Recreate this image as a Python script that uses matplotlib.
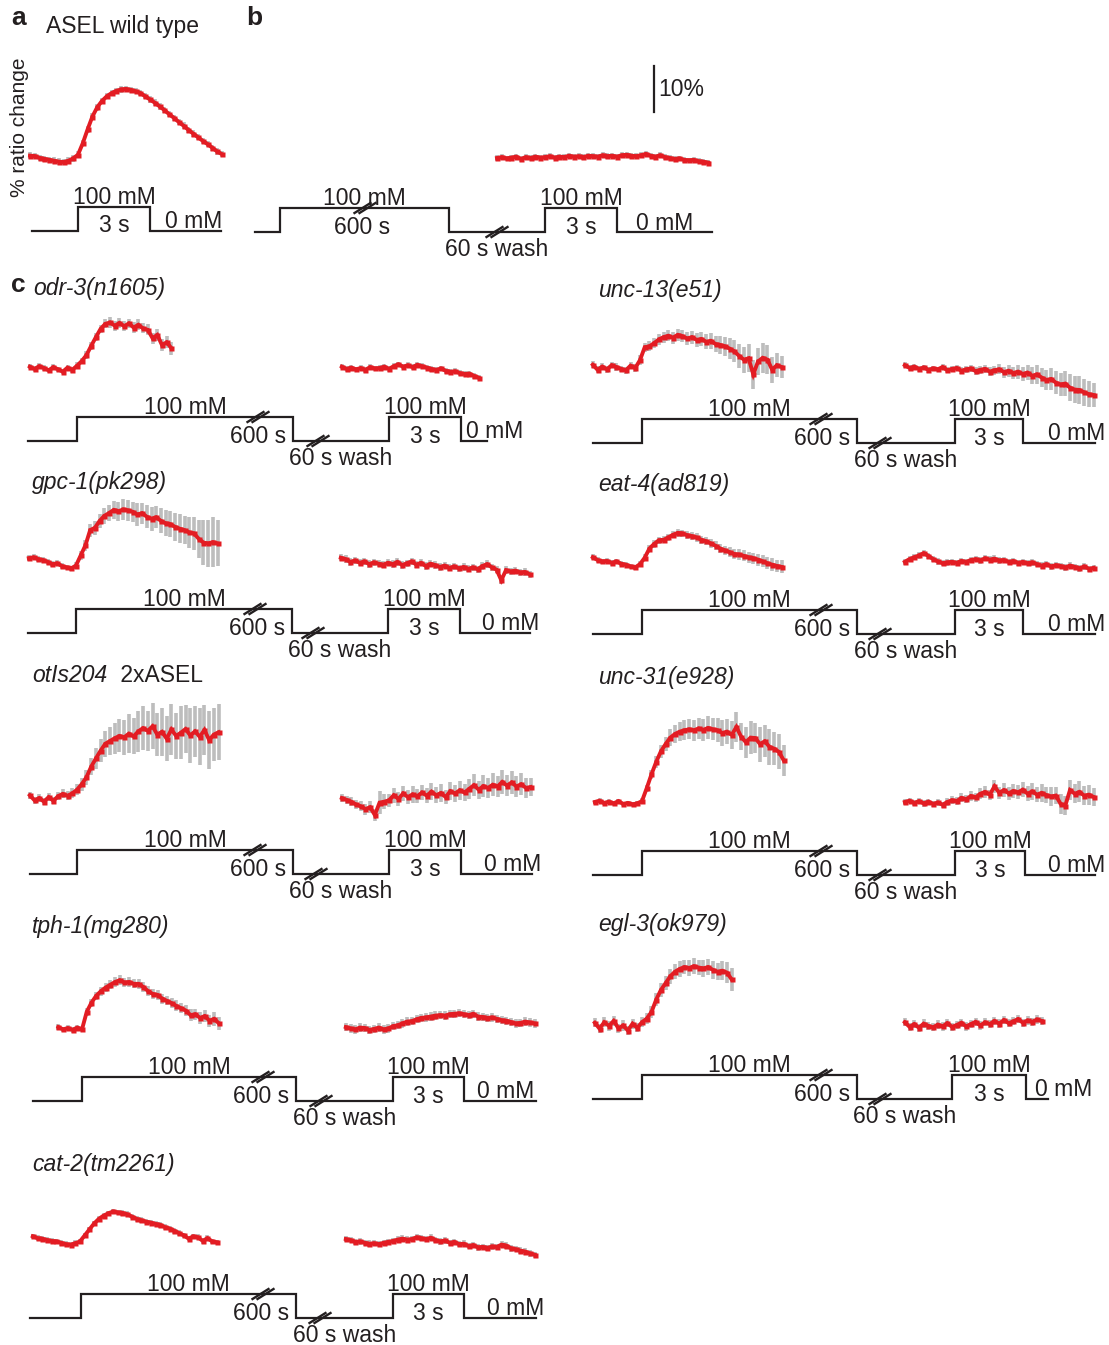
import numpy as np
import matplotlib.pyplot as plt

plt.rcParams['font.family'] = ['Liberation Sans', 'DejaVu Sans']

W, H = 1109, 1345
RED = '#e31c23'
GREY = '#bdbdbd'
INK = '#231f20'
PX_PER_PCT = 4.6          # vertical pixels per 1 % ratio change
DT = 0.2                  # sampling interval (s)
FS = 16.5

# --- traces: % ratio change, one value every DT seconds, t0 = first sample (s from onset)
wt_a = [0.3, 0.2, -0.2, -0.4, -0.6, -0.8, -1.0, -1.1, -0.8, -0.3,
        0.5, 3.0, 6.0, 8.8, 10.8, 12.2, 13.2, 13.9, 14.4, 14.7,
        14.8, 14.6, 14.3, 13.9, 13.2, 12.5, 11.8, 11.0, 10.2, 9.3,
        8.5, 7.6, 6.8, 5.9, 5.1, 4.3, 3.5, 2.8, 2.0, 1.2, 0.6]
wt_b = [0.0, 0.2, -0.1, 0.1, 0.3, -0.2, 0.2, 0.0, 0.3, 0.1,
        0.2, 0.4, 0.1, 0.3, 0.2, 0.5, 0.3, 0.4, 0.2, 0.5,
        0.4, 0.3, 0.6, 0.4, 0.5, 0.3, 0.6, 0.7, 0.5, 0.4,
        0.6, 0.9, 0.5, 0.3, 0.6, 0.2, 0.0, -0.2, -0.1, -0.4,
        -0.5, -0.4, -0.7, -0.8, -1.0]

odr3_pre = [0.3, -0.2, 0.4, 0.0, -0.5, 0.2, -0.3, -0.8, 0.1, -0.4,
            0.5, 1.5, 2.8, 4.8, 6.7, 8.5, 9.6, 9.9, 9.2, 9.8,
            9.1, 9.7, 8.8, 9.4, 8.6, 8.3, 6.5, 7.2, 5.0, 5.6, 4.3]
odr3_pre_err = [0.6, 0.6, 0.6, 0.6, 0.6, 0.6, 0.6, 0.6, 0.6, 0.6,
                0.7, 0.7, 0.8, 0.8, 0.9, 0.9, 1.0, 1.1, 1.1, 1.0,
                1.1, 1.0, 1.1, 1.2, 1.1, 1.2, 1.2, 1.3, 1.2, 1.3, 1.4]
odr3_post = [0.3, -0.2, 0.1, -0.3, 0.0, -0.4, 0.2, -0.1, 0.0, 0.3,
             -0.2, 0.4, 0.8, 0.3, 0.6, 0.2, 0.7, 0.4, 0.1, -0.2,
             -0.4, -0.1, -0.6, -0.8, -0.7, -1.1, -1.3, -1.2, -1.7, -2.1]

unc13_pre = [0.5, -0.6, 0.1, -0.5, 0.4, 0.0, -0.4, -0.7, 0.3, -0.2,
             1.5, 4.3, 4.5, 5.2, 6.0, 6.5, 6.8, 6.4, 7.0, 6.7,
             6.2, 6.5, 5.9, 6.1, 5.5, 5.7, 5.0,
             4.8, 4.5, 4.0, 3.4, 2.4, 1.6, 1.9, -1.6, 1.2, 2.0, 1.6, -0.6, 0.4, 0.0]
unc13_pre_err = [0.7, 0.8, 0.7, 0.8, 0.7, 0.8, 0.7, 0.8, 0.7, 0.8,
                 1.0, 1.0, 1.1, 1.1, 1.2, 1.2, 1.2, 1.3, 1.3, 1.3,
                 1.4, 1.4, 1.5, 1.6, 1.6, 1.7, 1.8,
                 2.0, 2.1, 2.3, 2.4, 2.6, 2.8, 3.0, 3.2, 3.0, 3.3, 3.1, 2.8, 2.6, 2.4]
unc13_post = [0.4, -0.2, 0.1, -0.4, -0.1, -0.6, -0.3, -0.5, 0.0, -0.7,
              -0.4, -0.2, -0.8, -0.5, -0.3, -0.9, -0.6, -0.4, -1.0, -0.7,
              -0.5, -1.1, -0.8, -1.3, -1.0, -1.5, -1.2, -1.9, -1.6, -2.3,
              -2.8, -2.6, -3.4, -3.8, -3.6, -4.5, -4.9, -5.0, -5.5, -5.9, -6.1]
unc13_post_err = [0.6, 0.6, 0.6, 0.6, 0.6, 0.6, 0.6, 0.6, 0.6, 0.6,
                  0.7, 0.7, 0.7, 0.8, 0.8, 0.8, 0.9, 0.9, 1.0, 1.0,
                  1.1, 1.2, 1.3, 1.4, 1.5, 1.6, 1.7, 1.8, 2.0, 2.1,
                  2.2, 2.3, 2.5, 2.6, 2.8, 2.9, 3.0, 3.1, 3.0, 2.8, 2.6]

gpc1_pre = [0.4, 0.6, 0.2, 0.0, -0.4, -0.9, -0.7, -1.3, -1.6, -1.8,
            -1.2, 1.0, 3.2, 6.5, 7.0, 8.5, 9.6, 10.2, 10.9, 10.6,
            11.0, 10.8, 10.5, 9.9, 10.2, 9.4, 9.0, 9.3, 8.5, 8.0,
            7.8, 7.2, 6.8, 6.5, 6.0, 5.8, 4.6, 3.8, 3.6, 3.9, 3.6]
gpc1_pre_err = [0.6, 0.6, 0.6, 0.6, 0.6, 0.6, 0.6, 0.6, 0.6, 0.6,
                0.8, 1.0, 1.2, 1.4, 1.5, 1.6, 1.7, 1.8, 2.0, 2.1,
                2.2, 2.3, 2.2, 2.4, 2.3, 2.5, 2.6, 2.4, 2.7, 2.8,
                2.9, 3.0, 3.2, 3.1, 3.4, 3.6, 4.2, 4.8, 5.2, 5.4, 5.0]
gpc1_post = [0.5, 0.2, -0.4, -0.1, -0.6, -0.3, -0.9, -0.5, -0.8, -1.0,
             -0.6, -0.9, -0.4, -1.1, -0.7, -0.3, -1.0, -0.6, -1.3, -0.8,
             -1.1, -1.5, -1.2, -1.7, -1.4, -1.8, -1.5, -1.9, -1.6, -2.0,
             -1.3, -0.9, -1.6, -2.1, -4.4, -2.2, -2.5, -2.3, -2.7, -2.6, -3.1]

eat4_pre = [0.6, 0.0, -0.3, -0.2, -0.6, -0.3, -0.8, -1.0, -1.4, -1.6,
            -0.9, 0.5, 2.5, 3.5, 4.3, 4.4, 4.9, 5.5, 5.9, 5.8,
            5.4, 5.2, 4.9, 4.4, 4.1, 3.6, 3.1, 2.5, 2.1, 1.7,
            1.3, 1.2, 0.9, 0.6, 0.4, 0.1, -0.3, -0.7, -1.0, -1.3, -1.5]
eat4_pre_err = [0.6, 0.6, 0.6, 0.6, 0.6, 0.6, 0.6, 0.6, 0.6, 0.6,
                0.7, 0.7, 0.7, 0.8, 0.8, 0.8, 0.8, 0.8, 0.8, 0.8,
                0.8, 0.9, 0.9, 0.9, 0.9, 1.0, 1.0, 1.0, 1.0, 1.1,
                1.1, 1.1, 1.2, 1.2, 1.2, 1.3, 1.3, 1.3, 1.4, 1.4, 1.4]
eat4_post = [-0.4, 0.2, 0.6, 1.0, 1.5, 0.9, 0.2, -0.3, -0.7, -0.5,
             -0.4, -0.6, -0.2, -0.4, 0.0, 0.2, -0.1, 0.4, 0.1, 0.3,
             -0.1, 0.0, -0.4, -0.2, -0.6, -0.4, -0.7, -0.5, -0.9, -1.2,
             -0.9, -1.4, -1.1, -1.3, -1.6, -1.2, -1.5, -1.8, -1.4, -1.9, -1.7]

otis_pre = [0.6, -0.5, 0.0, -0.8, 0.2, -0.6, 0.4, 0.9, 0.5, 1.0,
            1.8, 3.0, 4.5, 6.8, 8.6, 10.3, 11.8, 12.4, 13.0, 13.5,
            13.2, 14.0, 13.4, 14.5, 15.2, 14.6, 15.6, 13.8, 14.4, 12.9,
            14.9, 13.5, 14.2, 15.0, 13.6, 14.5, 13.3, 14.8, 12.6, 13.8, 14.3]
otis_pre_err = [0.8, 0.8, 0.9, 0.8, 0.9, 0.8, 0.9, 1.0, 1.0, 1.1,
                1.2, 1.4, 1.6, 1.9, 2.2, 2.5, 2.8, 3.0, 3.4, 3.6,
                3.8, 4.2, 3.9, 4.5, 4.8, 4.4, 5.0, 4.6, 5.2, 4.9,
                5.5, 5.0, 5.8, 5.3, 6.0, 5.6, 6.2, 5.4, 6.4, 5.8, 6.1]
otis_post = [0.0, -0.4, -0.8, -1.4, -1.8, -2.4, -2.0, -3.7, -1.0, -0.8,
             -0.5, 0.6, -0.2, 1.0, 0.2, 0.8, 0.4, 1.2, 0.5, 1.4,
             0.6, 1.1, 0.2, 1.5, 1.0, 1.7, 1.2, 2.0, 2.8, 1.8,
             2.6, 2.2, 2.9, 2.5, 3.5, 2.7, 3.4, 2.5, 3.0, 2.2, 2.4]
otis_post_err = [0.8, 0.9, 1.0, 1.0, 1.1, 1.2, 1.3, 1.4, 2.5, 1.6,
                 1.4, 1.6, 1.5, 1.7, 1.6, 1.8, 1.5, 1.7, 1.6, 1.8,
                 1.7, 1.9, 1.6, 2.0, 1.8, 2.1, 1.9, 2.2, 2.4, 2.0,
                 2.3, 2.1, 2.5, 2.2, 2.6, 2.3, 2.5, 2.2, 2.4, 2.1, 2.0]

unc31_pre = [0.0, 0.3, -0.2, 0.1, -0.3, 0.2, -0.4, -0.2, -0.5, -0.3,
             0.2, 3.0, 6.0, 8.7, 11.0, 12.6, 14.0, 14.8, 15.3, 15.6,
             15.8, 15.6, 16.0, 15.7, 16.1, 15.8, 15.6, 15.0, 15.3, 14.6,
             16.3, 14.2, 13.0, 14.0, 13.9, 12.6, 13.2, 12.0, 11.6, 10.9, 9.1]
unc31_pre_err = [0.5, 0.5, 0.5, 0.5, 0.5, 0.5, 0.5, 0.5, 0.5, 0.5,
                 0.6, 0.8, 1.0, 1.2, 1.4, 1.6, 1.8, 2.0, 2.1, 2.2,
                 2.2, 2.3, 2.3, 2.4, 2.5, 2.4, 2.6, 2.8, 2.7, 3.0,
                 3.2, 3.0, 3.4, 3.6, 3.3, 3.8, 3.5, 3.9, 3.6, 3.8, 3.4]
unc31_post = [0.0, 0.3, -0.2, 0.2, -0.3, 0.1, -0.4, -0.1, -0.6, 0.0,
              0.4, 0.2, 0.9, 0.6, 1.3, 1.0, 1.8, 2.2, 1.6, 3.4,
              2.0, 2.6, 1.9, 2.4, 2.1, 2.7, 1.8, 2.3, 1.6, 2.0,
              1.5, 1.2, 1.4, -0.4, -0.8, 2.6, 1.8, 2.2, 1.4, 1.6, 1.1]
unc31_post_err = [0.6, 0.6, 0.7, 0.6, 0.7, 0.6, 0.7, 0.8, 0.7, 0.8,
                  0.8, 0.9, 1.0, 0.9, 1.1, 1.0, 1.2, 1.3, 1.1, 1.4,
                  1.3, 1.5, 1.4, 1.6, 1.5, 1.7, 1.6, 1.8, 1.7, 1.9,
                  1.8, 2.0, 1.9, 2.1, 2.0, 2.2, 2.1, 2.3, 2.0, 2.2, 1.9]

tph1_pre = [0.2, -0.3, 0.0, -0.4, 0.1, -0.3,
            3.5, 5.5, 7.0, 8.0, 8.8, 9.4, 10.0, 10.4, 9.9, 10.0, 9.6, 9.6, 8.9, 8.0,
            7.4, 7.2, 6.4, 5.9, 5.4, 4.8, 4.3, 3.8, 2.8, 3.0, 2.2, 2.6, 1.6, 2.0, 1.0]
tph1_pre_err = [0.6, 0.6, 0.6, 0.6, 0.6, 0.6,
                0.8, 0.9, 0.9, 1.0, 1.0, 1.0, 1.1, 1.1, 1.0, 1.1, 1.0, 1.1, 1.0, 1.1,
                1.0, 1.1, 1.1, 1.0, 1.1, 1.2, 1.1, 1.2, 1.3, 1.2, 1.3, 1.4, 1.3, 1.5, 1.4]
tph1_post = [0.2, -0.1, -0.3, 0.1, 0.0, -0.4, -0.2, 0.1, -0.3, -0.1,
             0.4, 0.6, 1.0, 1.4, 1.5, 1.9, 2.2, 2.3, 2.5, 2.7,
             2.8, 2.7, 3.0, 3.1, 3.2, 3.0, 2.8, 3.1, 2.5, 2.4,
             2.2, 2.3, 2.0, 1.7, 1.6, 1.3, 1.0, 1.1, 1.4, 1.2, 1.0]

egl3_pre = [0.5, -0.8, 0.6, -0.2, 0.9, -0.7, -0.1, -1.2, 0.3, -0.6,
            0.6, 1.4, 2.8, 5.5, 7.6, 9.1, 10.6, 11.6, 12.2, 12.6,
            12.4, 12.8, 12.5, 12.3, 12.6, 12.0, 11.6, 11.8, 11.4, 9.9]
egl3_pre_err = [1.0, 1.0, 1.1, 1.0, 1.1, 1.0, 1.1, 1.0, 1.1, 1.0,
                1.1, 1.2, 1.3, 1.4, 1.5, 1.5, 1.6, 1.6, 1.7, 1.6,
                1.7, 1.8, 1.7, 1.9, 1.8, 2.0, 1.9, 2.1, 2.2, 2.4]
egl3_post = [0.6, -0.4, 0.2, -0.6, 0.3, -0.2, -0.5, 0.1, -0.3, 0.4,
             -0.4, 0.0, 0.5, -0.3, 0.2, 0.7, -0.1, 0.6, 0.2, 0.9,
             0.3, 1.1, 0.4, 0.8, 1.3, 0.5, 1.0, 0.7, 1.2, 0.9]

cat2_pre = [0.8, 0.4, 0.3, 0.0, -0.2, -0.3, -0.6, -0.9, -1.0, -0.7,
            -0.3, 1.0, 2.3, 3.6, 4.6, 5.3, 5.8, 6.2, 6.0, 5.9,
            5.6, 5.1, 4.6, 4.3, 4.0, 3.8, 3.5, 3.3, 2.8, 2.5,
            2.0, 1.5, 1.0, 0.3, 0.8, 0.6, -0.2, 0.4, -0.3, -0.5]
cat2_post = [0.2, 0.0, -0.4, -0.3, -0.6, -0.8, -0.7, -0.9, -0.6, -0.4,
             -0.2, 0.1, 0.3, 0.1, 0.2, 0.6, 0.4, 0.2, 0.5, 0.0,
             -0.3, -0.1, -0.6, -0.4, -0.9, -0.8, -1.3, -1.1, -1.6, -1.5,
             -1.7, -1.4, -1.5, -1.0, -1.2, -1.8, -2.0, -2.3, -2.5, -2.9, -3.2]

# stimulus protocol (NaCl, mM)
conc_single = [0, 100, 0]
conc_paired = [0, 100, 0, 100, 0]

# genotype blocks of panel c: schematic edges are (start, on1, off1, on2, off2, end) in px
blocks = [
    dict(name=['odr-3(n1605)'], tx=33, ty=295, edges=(28, 77, 293, 389, 461, 487), y_low=441,
         zero_x=466, breaks=(258, 318), base=368, on=(77, 389),
         pre=(odr3_pre, odr3_pre_err, -2.0), post=(odr3_post, 0.6, -2.0)),
    dict(name=['unc-13(e51)'], tx=598, ty=297, edges=(593, 642, 857, 955, 1023, 1095), y_low=443,
         zero_x=1048, breaks=(821, 880), base=367, on=(640, 952),
         pre=(unc13_pre, unc13_pre_err, -2.0), post=(unc13_post, unc13_post_err, -2.0)),
    dict(name=['gpc-1(pk298)'], tx=32, ty=489, edges=(28, 76, 292, 388, 460, 530), y_low=633,
         zero_x=482, breaks=(255, 313), base=560, on=(76, 388),
         pre=(gpc1_pre, gpc1_pre_err, -2.0), post=(gpc1_post, 0.8, -2.0)),
    dict(name=['eat-4(ad819)'], tx=598, ty=491, edges=(593, 642, 857, 955, 1023, 1095), y_low=634,
         zero_x=1048, breaks=(821, 880), base=560, on=(640, 952),
         pre=(eat4_pre, eat4_pre_err, -2.0), post=(eat4_post, 0.7, -2.0)),
    dict(name=['otIs204', ' 2xASEL'], tx=32, ty=682, edges=(30, 77, 293, 389, 461, 532), y_low=874,
         zero_x=484, breaks=(255, 316), base=798, on=(77, 389),
         pre=(otis_pre, otis_pre_err, -2.0), post=(otis_post, otis_post_err, -2.0)),
    dict(name=['unc-31(e928)'], tx=598, ty=684, edges=(593, 642, 857, 955, 1025, 1095), y_low=875,
         zero_x=1048, breaks=(821, 880), base=802, on=(642, 952),
         pre=(unc31_pre, unc31_pre_err, -2.0), post=(unc31_post, unc31_post_err, -2.0)),
    dict(name=['tph-1(mg280)'], tx=32, ty=933, edges=(33, 82, 296, 393, 464, 536), y_low=1101,
         zero_x=477, breaks=(263, 321), base=1028, on=(82, 393),
         pre=(tph1_pre, tph1_pre_err, -1.0), post=(tph1_post, 0.9, -2.0)),
    dict(name=['egl-3(ok979)'], tx=598, ty=931, edges=(593, 642, 857, 952, 1026, 1048), y_low=1099,
         zero_x=1035, breaks=(821, 880), base=1025, on=(642, 952),
         pre=(egl3_pre, egl3_pre_err, -2.0), post=(egl3_post, 0.9, -2.0)),
    dict(name=['cat-2(tm2261)'], tx=32, ty=1171, edges=(30, 81, 296, 393, 464, 536), y_low=1318,
         zero_x=487, breaks=(263, 320), base=1240, on=(80, 393),
         pre=(cat2_pre, 0.6, -2.0), post=(cat2_post, 0.7, -2.0)),
]

STEP_H = 24   # px height of the 100 mM level in the schematics

fig = plt.figure(figsize=(W / 100, H / 100), dpi=100)
fig.patch.set_facecolor('white')

# canvas in pixel units for schematics and lettering
ov = fig.add_axes([0, 0, 1, 1])
ov.set_xlim(0, W)
ov.set_ylim(H, 0)
ov.axis('off')


def draw_trace(x_on, y_base, vals, err, t0, pps):
    vals = np.asarray(vals, float)
    t = t0 + DT * np.arange(len(vals))
    err = np.broadcast_to(np.asarray(err, float), vals.shape)
    lo = (vals - err).min() - 1.5
    hi = (vals + err).max() + 1.5
    tl, tr = t[0] - DT, t[-1] + DT
    left, right = x_on + tl * pps, x_on + tr * pps
    top, bottom = y_base - hi * PX_PER_PCT, y_base - lo * PX_PER_PCT
    ax = fig.add_axes([left / W, 1 - bottom / H, (right - left) / W, (bottom - top) / H])
    ax.set_xlim(tl, tr)
    ax.set_ylim(lo, hi)
    ax.axis('off')
    ax.errorbar(t, vals, yerr=err, fmt='none', ecolor=GREY, elinewidth=2.6, capsize=0)
    ax.plot(t, vals, color=RED, lw=2.8, solid_joinstyle='miter')
    ax.plot(t, vals, 's', color=RED, ms=3.6, mec='none')
    return ax


def draw_steps(edges, levels, y_low):
    xs, ys = [], []
    for i, c in enumerate(levels):
        y = y_low - c / 100 * STEP_H
        xs += [edges[i], edges[i + 1]]
        ys += [y, y]
    ov.plot(xs, ys, color=INK, lw=1.6, solid_joinstyle='miter')


def draw_break(x, y):
    # two slanted strokes marking the compressed time axis
    for dx in (-2.5, 2.5):
        ov.plot([x - 8 + dx, x + 8 + dx], [y + 5, y - 5], color=INK, lw=1.7)


def label(x, y, s, **kw):
    kw.setdefault('fontsize', FS)
    kw.setdefault('color', INK)
    kw.setdefault('va', 'baseline')
    ov.text(x, y, s, **kw)


# ---- panel a
label(11, 25, 'a', fontsize=19, fontweight='bold')
label(46, 33, 'ASEL wild type', fontsize=16.5)
label(20, 127, '% ratio change', rotation=90, ha='center', va='center', fontsize=15)
draw_trace(78, 157, wt_a, 0.7, -2.0, 24)
e = (32, 78, 150, 221)
draw_steps(e, conc_single, 231)
label((e[1] + e[2]) / 2, 231 - STEP_H - 3, '100 mM', ha='center')
label((e[1] + e[2]) / 2, 232, '3 s', ha='center')
label(165, 228, '0 mM')

# ---- panel b
label(246, 25, 'b', fontsize=19, fontweight='bold')
draw_trace(545, 158, wt_b, 0.6, -2.0, 24)
e = (255, 280, 449, 545, 617, 712)
yl = 232
draw_steps(e, conc_paired, yl)
draw_break(365, yl - STEP_H)
draw_break(497, yl)
label((e[1] + e[2]) / 2, yl - STEP_H - 3, '100 mM', ha='center')
label((e[1] + e[2]) / 2 - 2, yl + 2, '600 s', ha='center')
label((e[2] + e[3]) / 2, yl + 24, '60 s wash', ha='center')
label((e[3] + e[4]) / 2, yl - STEP_H - 3, '100 mM', ha='center')
label((e[3] + e[4]) / 2, yl + 2, '3 s', ha='center')
label((e[4] + e[5]) / 2, yl - 2, '0 mM', ha='center')

# 10 % scale bar
ov.plot([654, 654], [66, 66 + 10 * PX_PER_PCT], color=INK, lw=1.6)
label(658, 89, '10%', va='center', fontsize=16.5)

# ---- panel c
label(11, 292, 'c', fontsize=19, fontweight='bold')
for b in blocks:
    label(b['tx'], b['ty'], b['name'][0], style='italic')
    if len(b['name']) > 1:
        label(b['tx'] + 82, b['ty'], b['name'][1])
    e, yl = b['edges'], b['y_low']
    draw_steps(e, conc_paired, yl)
    draw_break(b['breaks'][0], yl - STEP_H)
    draw_break(b['breaks'][1], yl)
    label((e[1] + e[2]) / 2, yl - STEP_H - 3, '100 mM', ha='center')
    label(e[2] - 7, yl + 2, '600 s', ha='right')
    label((e[2] + e[3]) / 2, yl + 24, '60 s wash', ha='center')
    label((e[3] + e[4]) / 2, yl - STEP_H - 3, '100 mM', ha='center')
    label((e[3] + e[4]) / 2, yl + 2, '3 s', ha='center')
    label(b['zero_x'], yl - 3, '0 mM')

    vals, err, t0 = b['pre']
    draw_trace(b['on'][0], b['base'], vals, err, t0, 23.6)
    vals, err, t0 = b['post']
    draw_trace(b['on'][1], b['base'], vals, err, t0, 23.6)

fig.savefig('out.png', dpi=100, facecolor='white')
